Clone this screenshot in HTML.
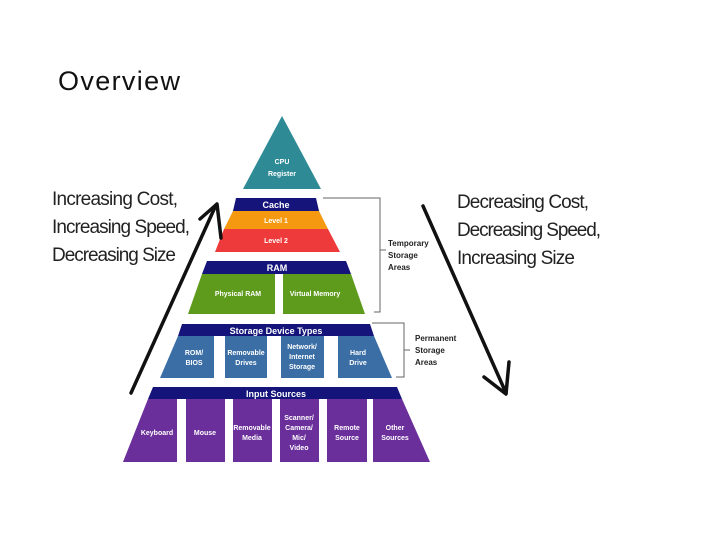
<!DOCTYPE html>
<html><head><meta charset="utf-8"><style>
html,body{margin:0;padding:0;background:#fff;}
svg{display:block;}
.h{font-family:"Liberation Sans",sans-serif;font-size:19px;fill:#222;}
.w{font-family:"Liberation Sans",sans-serif;font-weight:bold;fill:#fff;font-size:7px;text-anchor:middle;}
.wb{font-family:"Liberation Sans",sans-serif;font-weight:bold;fill:#fff;font-size:9px;text-anchor:middle;}
.k{font-family:"Liberation Sans",sans-serif;font-weight:bold;fill:#222;font-size:8px;}
</style></head><body>
<svg width="720" height="540" viewBox="0 0 720 540">
<text x="58" y="90" font-family="Liberation Sans,sans-serif" font-size="27" fill="#111" textLength="122">Overview</text>
<text class="h" x="52" y="205" textLength="126">Increasing Cost,</text>
<text class="h" x="52" y="233" textLength="138">Increasing Speed,</text>
<text class="h" x="52" y="261" textLength="124">Decreasing Size</text>
<text class="h" x="457" y="208" textLength="132">Decreasing Cost,</text>
<text class="h" x="457" y="236" textLength="144">Decreasing Speed,</text>
<text class="h" x="457" y="264" textLength="118">Increasing Size</text>

<!-- CPU -->
<polygon points="282,116 321,189 243,189" fill="#2e8b96"/>
<text class="w" x="282" y="164">CPU</text>
<text class="w" x="282" y="176">Register</text>
<!-- Cache -->
<polygon points="236,198 316,198 319,211 233,211" fill="#14147a"/>
<text class="wb" x="276" y="208">Cache</text>
<polygon points="233,211 319,211 328,229 224,229" fill="#f59a10"/>
<text class="w" x="276" y="223">Level 1</text>
<polygon points="224,229 328,229 340,252 215,252" fill="#ee3a3a"/>
<text class="w" x="276" y="243">Level 2</text>
<!-- RAM -->
<polygon points="207,261 346,261 351,274 202,274" fill="#14147a"/>
<text class="wb" x="277" y="271">RAM</text>
<polygon points="202,274 275,274 275,314 188,314" fill="#5e9a1c"/>
<polygon points="283,274 351,274 365,314 283,314" fill="#5e9a1c"/>
<text class="w" x="238" y="296">Physical RAM</text>
<text class="w" x="315" y="296">Virtual Memory</text>
<!-- Storage -->
<polygon points="182,324 370,324 374,336 178,336" fill="#14147a"/>
<text class="wb" x="276" y="334">Storage Device Types</text>
<polygon points="178,336 214,336 214,378 160,378" fill="#3a6ea5"/>
<rect x="225" y="336" width="42" height="42" fill="#3a6ea5"/>
<rect x="281" y="336" width="43" height="42" fill="#3a6ea5"/>
<polygon points="338,336 374,336 392,378 338,378" fill="#3a6ea5"/>
<text class="w" x="194" y="355">ROM/</text><text class="w" x="194" y="365">BIOS</text>
<text class="w" x="246" y="355">Removable</text><text class="w" x="246" y="365">Drives</text>
<text class="w" x="302" y="349">Network/</text><text class="w" x="302" y="359">Internet</text><text class="w" x="302" y="369">Storage</text>
<text class="w" x="358" y="355">Hard</text><text class="w" x="358" y="365">Drive</text>
<!-- Input -->
<polygon points="153,387 397,387 402,399 148,399" fill="#14147a"/>
<text class="wb" x="276" y="397">Input Sources</text>
<g fill="#6a2f9a">
<polygon points="148,399 177,399 177,462 123,462"/>
<rect x="186" y="399" width="39" height="63"/>
<rect x="233" y="399" width="39" height="63"/>
<rect x="280" y="399" width="39" height="63"/>
<rect x="327" y="399" width="40" height="63"/>
<polygon points="373,399 402,399 430,462 373,462"/>
</g>
<text class="w" x="157" y="435">Keyboard</text>
<text class="w" x="205" y="435">Mouse</text>
<text class="w" x="252" y="430">Removable</text><text class="w" x="252" y="440">Media</text>
<text class="w" x="299" y="420">Scanner/</text><text class="w" x="299" y="430">Camera/</text><text class="w" x="299" y="440">Mic/</text><text class="w" x="299" y="450">Video</text>
<text class="w" x="347" y="430">Remote</text><text class="w" x="347" y="440">Source</text>
<text class="w" x="395" y="430">Other</text><text class="w" x="395" y="440">Sources</text>
<!-- brackets -->
<polyline points="323,198 380,198 380,312 374,312" fill="none" stroke="#666" stroke-width="1"/>
<line x1="380" y1="250" x2="386" y2="250" stroke="#666"/>
<text class="k" x="388" y="246">Temporary</text>
<text class="k" x="388" y="258">Storage</text>
<text class="k" x="388" y="270">Areas</text>
<polyline points="372,323 404,323 404,377 396,377" fill="none" stroke="#666" stroke-width="1"/>
<line x1="404" y1="350" x2="410" y2="350" stroke="#666"/>
<text class="k" x="415" y="341">Permanent</text>
<text class="k" x="415" y="353">Storage</text>
<text class="k" x="415" y="365">Areas</text>
<!-- arrows -->
<g stroke="#111" stroke-width="3.5" fill="none" stroke-linecap="round" stroke-linejoin="round">
<line x1="131" y1="393" x2="216" y2="205"/>
<polyline points="200,219 217,204 221,238"/>
<line x1="423" y1="206" x2="506" y2="393"/>
<polyline points="484,377 506,394 509,362"/>
</g>
</svg>
</body></html>
